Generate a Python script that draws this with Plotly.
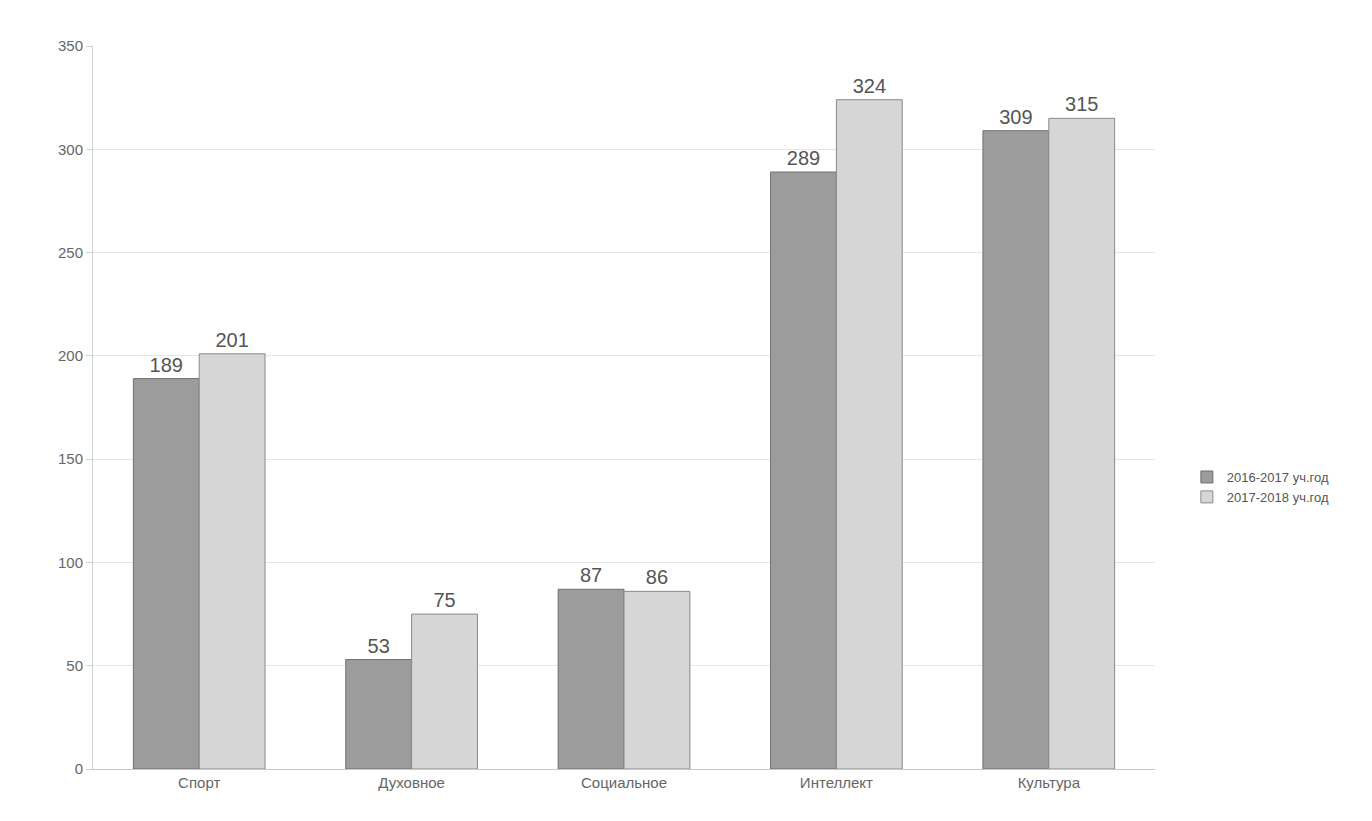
import plotly.graph_objects as go

categories = ["Спорт", "Духовное", "Социальное", "Интеллект", "Культура"]
series_names = ["2016-2017 уч.год", "2017-2018 уч.год"]
values_2016 = [189, 53, 87, 289, 309]
values_2017 = [201, 75, 86, 324, 315]
y_ticks = [0, 50, 100, 150, 200, 250, 300, 350]

fig = go.Figure()
fig.add_trace(go.Bar(
    x=categories, y=values_2016, name=series_names[0],
    marker=dict(color="#9c9c9c", line=dict(color="#707070", width=1)),
    text=values_2016, textposition="outside",
    textfont=dict(size=20, color="#555555", family="Liberation Sans"),
    cliponaxis=False,
))
fig.add_trace(go.Bar(
    x=categories, y=values_2017, name=series_names[1],
    marker=dict(color="#d6d6d6", line=dict(color="#8a8a8a", width=1)),
    text=values_2017, textposition="outside",
    textfont=dict(size=20, color="#555555", family="Liberation Sans"),
    cliponaxis=False,
))

fig.update_layout(
    width=1372, height=821,
    paper_bgcolor="white", plot_bgcolor="white",
    barmode="group", bargap=0.38, bargroupgap=0.0,
    margin=dict(l=85, r=225, t=38, b=60),
    font=dict(family="Liberation Sans", color="#666666", size=14),
    legend=dict(x=1.03, y=0.39, xanchor="left", yanchor="middle",
                font=dict(size=13, color="#555555"),
                itemwidth=30, tracegroupgap=2),
    xaxis=dict(showline=True, linecolor="#c8c8c8", ticks="",
               tickfont=dict(size=15, color="#666666")),
    yaxis=dict(range=[0, 350], tickvals=y_ticks, showgrid=True,
               gridcolor="#e6e6e6", showline=True, linecolor="#d0d0d0",
               ticks="outside", ticklen=6, tickcolor="#d0d0d0",
               tickfont=dict(size=15, color="#666666"), zeroline=False),
)

fig.write_html("out.html")
